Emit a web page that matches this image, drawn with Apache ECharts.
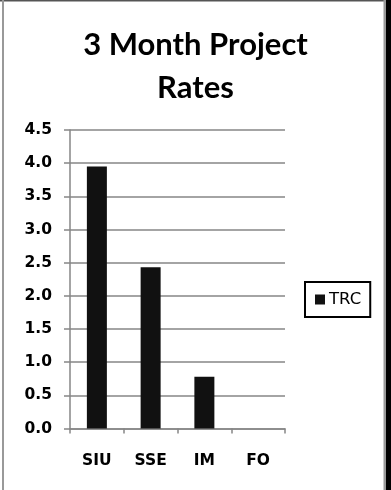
<!DOCTYPE html>
<html>
<head>
<meta charset="utf-8">
<script src="https://cdn.jsdelivr.net/npm/echarts@6/dist/echarts.min.js"></script>
<style>
  html, body { margin: 0; padding: 0; background: #fff; }
  #chart { width: 391px; height: 490px; }
</style>
</head>
<body>
<div id="chart"></div>
<script>
// Project rate per unit over the last three months
const categories = ['SIU', 'SSE', 'IM', 'FO'];
const trcValues = [3.95, 2.43, 0.78, 0];
const seriesName = 'TRC';
const titleText = '3 Month Project\nRates';

const chart = echarts.init(document.getElementById('chart'));
const titleFont = 'Lato, "Open Sans", sans-serif';
const labelFont = '"DejaVu Sans", Verdana, sans-serif';

chart.setOption({
  animation: false,
  backgroundColor: '#fff',
  title: {
    text: titleText,
    left: 'center',
    top: 18,
    textStyle: {
      fontFamily: titleFont,
      fontWeight: 'bold',
      fontSize: 31,
      lineHeight: 43,
      color: '#000'
    }
  },
  legend: {
    data: [{ name: seriesName, icon: 'rect' }],
    orient: 'vertical',
    left: 305,
    top: 282,
    itemWidth: 10,
    itemHeight: 10,
    itemGap: 4,
    padding: [9, 9, 9, 10],
    borderColor: '#000',
    borderWidth: 2,
    textStyle: { fontFamily: labelFont, fontSize: 16.5, color: '#000', padding: [0, 0, 0, -1] }
  },
  grid: { left: 70, right: 106, top: 130, bottom: 61.5 },
  xAxis: {
    type: 'category',
    data: categories,
    axisLine: { lineStyle: { color: '#868686', width: 1.5 } },
    axisTick: { show: true, length: 5, lineStyle: { color: '#868686', width: 1.5 } },
    axisLabel: {
      margin: 24,
      color: '#000',
      fontFamily: labelFont,
      fontWeight: 'bold',
      fontSize: 15.5
    }
  },
  yAxis: {
    type: 'value',
    min: 0,
    max: 4.5,
    interval: 0.5,
    axisLine: { show: true, lineStyle: { color: '#868686', width: 1.5 } },
    axisTick: { show: true, length: 6, lineStyle: { color: '#868686', width: 1.5 } },
    splitLine: { lineStyle: { color: '#868686', width: 1.5 } },
    axisLabel: {
      margin: 18,
      color: '#000',
      fontFamily: labelFont,
      fontWeight: 'bold',
      fontSize: 15.5,
      formatter: v => v.toFixed(1)
    }
  },
  series: [{
    name: seriesName,
    type: 'bar',
    data: trcValues,
    barWidth: 20,
    itemStyle: { color: '#111' }
  }],
  graphic: [
    { type: 'rect', shape: { x: 0, y: 0, width: 391, height: 1.5 }, style: { fill: '#555' } },
    { type: 'rect', shape: { x: 2, y: 0, width: 2, height: 490 }, style: { fill: '#999' } },
    { type: 'rect', shape: { x: 383.5, y: 0, width: 2.5, height: 490 }, style: { fill: '#999' } },
    { type: 'rect', shape: { x: 386, y: 0, width: 5, height: 490 }, style: { fill: '#000' } }
  ]
});
</script>
</body>
</html>
